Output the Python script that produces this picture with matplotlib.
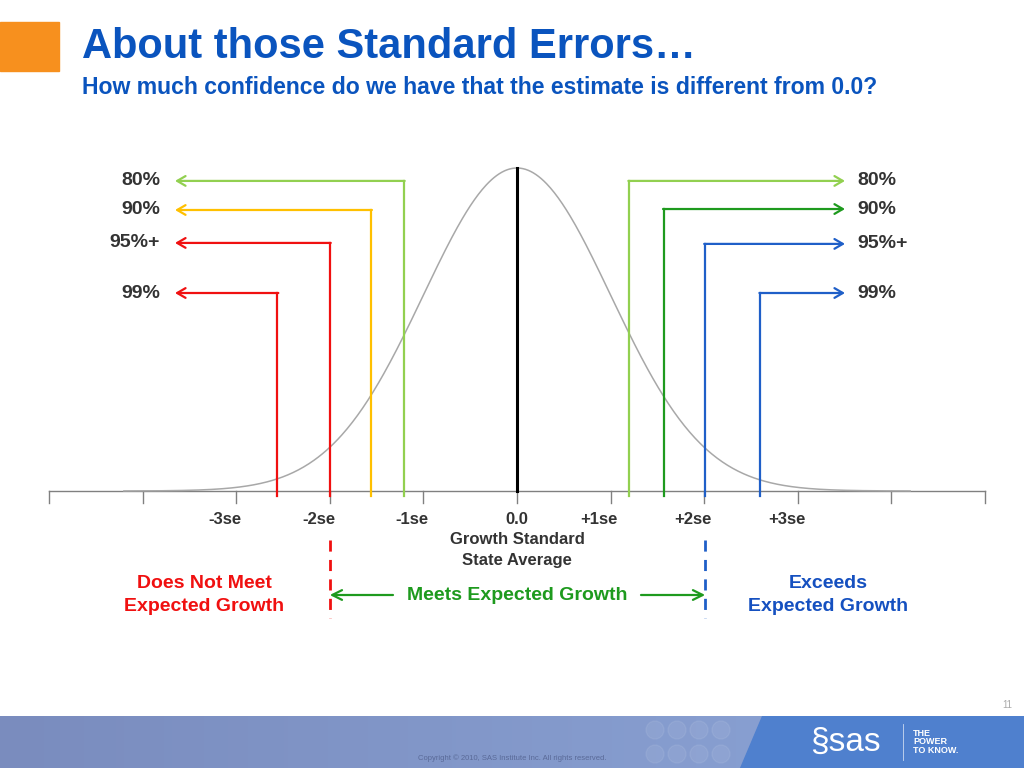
import numpy as np
import matplotlib
matplotlib.use("Agg")
import matplotlib.pyplot as plt
from matplotlib.patches import Rectangle, Polygon, Circle

plt.rcParams["font.family"] = ["Liberation Sans", "DejaVu Sans"]

# ---- data ----
title = "About those Standard Errors\u2026"
subtitle = "How much confidence do we have that the estimate is different from 0.0?"

tick_pos = np.arange(-5, 6)
label_pos = [-3, -2, -1, 0, 1, 2, 3]
label_txt = ["-3se", "-2se", "-1se", "0.0", "+1se", "+2se", "+3se"]

levels = ["80%", "90%", "95%+", "99%"]
left_cut = [-1.21, -1.56, -2.00, -2.56]
left_y = [0.960, 0.870, 0.768, 0.613]
left_col = ["#92D050", "#FFC000", "#F01010", "#F01010"]
right_cut = [1.20, 1.57, 2.01, 2.60]
right_y = [0.960, 0.873, 0.765, 0.613]
right_col = ["#92D050", "#1E9A1E", "#1F5FC8", "#1F5FC8"]

BLUE = "#0A54BE"
DARK = "#333333"

# pixel layout: center x=517, 1se=93.6px, baseline y=491, peak y=168
W, H = 1024, 768
cx, se, y0, pk = 517, 93.6, 491, 323.0

fig = plt.figure(figsize=(10.24, 7.68), dpi=100)
ax = fig.add_axes([0, 0, 1, 1])
ax.set_xlim((0 - cx) / se, (W - cx) / se)
ax.set_ylim((y0 - H) / pk, y0 / pk)
ax.axis("off")

# normal curve
xs = np.linspace(-4.2, 4.2, 600)
ax.plot(xs, np.exp(-xs ** 2 / 2), color="#A8A8A8", lw=1.1, zorder=2)

# axis line and ticks
ax.plot([-5, 5], [0, 0], color="#808080", lw=1.0, zorder=1)
tl = 12 / pk
for t in tick_pos:
    ax.plot([t, t], [0, -tl], color="#808080", lw=1.0, zorder=1)
for p, s in zip(label_pos, label_txt):
    off = 0 if p == 0 else -0.12
    ax.text(p + off, -29 / pk, s, ha="center", va="center", fontsize=12,
            fontweight="bold", color=DARK)
ax.text(0, -49 / pk, "Growth Standard", ha="center", va="center", fontsize=12,
        fontweight="bold", color=DARK)
ax.text(0, -69 / pk, "State Average", ha="center", va="center", fontsize=12,
        fontweight="bold", color=DARK)

# center line
ax.plot([0, 0], [0, 1.0], color="black", lw=2.2, zorder=3)

low = -5 / pk
ltip = (175 - cx) / se
rtip = (845 - cx) / se
aprops = dict(arrowstyle="->,head_length=0.6,head_width=0.35", lw=1.6,
              shrinkA=0, shrinkB=0)
for c, yv, col, lab in zip(left_cut, left_y, left_col, levels):
    ax.plot([c, c], [low, yv], color=col, lw=1.6, zorder=3)
    ax.annotate("", xy=(ltip, yv), xytext=(c + 0.01, yv),
                arrowprops=dict(aprops, color=col), zorder=3)
    ax.text((160 - cx) / se, yv, lab, ha="right", va="center", fontsize=14,
            fontweight="bold", color=DARK)
for c, yv, col, lab in zip(right_cut, right_y, right_col, levels):
    ax.plot([c, c], [low, yv], color=col, lw=1.6, zorder=3)
    ax.annotate("", xy=(rtip, yv), xytext=(c - 0.01, yv),
                arrowprops=dict(aprops, color=col), zorder=3)
    ax.text((857 - cx) / se, yv, lab, ha="left", va="center", fontsize=14,
            fontweight="bold", color=DARK)

# growth zone markers
dtop, dbot = -(540 - y0) / pk, -(618 - y0) / pk
ax.plot([-2, -2], [dtop, dbot], color="#F01010", lw=2.0, ls=(0, (4, 3)))
ax.plot([2.01, 2.01], [dtop, dbot], color="#1F5FC8", lw=2.0, ls=(0, (4, 3)))
ym = -(595 - y0) / pk
gprops = dict(arrowstyle="->,head_length=0.7,head_width=0.35", lw=1.6,
              color="#1E9A1E", shrinkA=0, shrinkB=0)
ax.annotate("", xy=(-2.0, ym), xytext=((393 - cx) / se, ym), arrowprops=gprops)
ax.annotate("", xy=(2.01, ym), xytext=((641 - cx) / se, ym), arrowprops=gprops)
ax.text(0, ym, "Meets Expected Growth", ha="center", va="center", fontsize=14,
        fontweight="bold", color="#1E9A1E")
ax.text((204 - cx) / se, ym, "Does Not Meet\nExpected Growth", ha="center",
        va="center", fontsize=14, fontweight="bold", color="#F01010",
        linespacing=1.45)
ax.text((828 - cx) / se, ym, "Exceeds\nExpected Growth", ha="center",
        va="center", fontsize=14, fontweight="bold", color="#1550C0",
        linespacing=1.45)

# ---- slide decoration (figure coords) ----
fig.patches.append(Rectangle((0, 1 - 71 / H), 59 / W, 49 / H,
                             transform=fig.transFigure, color="#F7901E"))
fig.text(82 / W, 1 - 47 / H, title, ha="left", va="center", fontsize=30,
         fontweight="bold", color=BLUE)
fig.text(82 / W, 1 - 88 / H, subtitle, ha="left", va="center", fontsize=16.6,
         fontweight="bold", color=BLUE)

# footer band with gradient
fax = fig.add_axes([0, 0, 1, 52 / H])
fax.set_xlim(0, W)
fax.set_ylim(0, 52)
fax.axis("off")
grad = np.linspace(0, 1, 256)
c1 = np.array([122, 140, 190]) / 255
c2 = np.array([140, 165, 215]) / 255
img = (c1[None, :] * (1 - grad[:, None]) + c2[None, :] * grad[:, None])[None, :, :]
fax.imshow(img, extent=[0, W, 0, 52], aspect="auto", zorder=0)
fax.add_patch(Polygon([[762, 52], [W, 52], [W, 0], [740, 0]],
                      color="#4F80CE", zorder=1))
for i in range(4):
    for j in range(2):
        fax.add_patch(Circle((655 + i * 22, 38 - j * 24), 9,
                             color="white", alpha=0.07, zorder=1))
fax.text(512, 10, "Copyright \u00a9 2010, SAS Institute Inc. All rights reserved.",
         ha="center", va="center", fontsize=5.5, color="#5A6A98")
fax.text(845, 26, "\u00a7sas", ha="center", va="center", fontsize=24,
         color="white")
fax.plot([903, 903], [8, 44], color="white", lw=0.6, alpha=0.7)
fax.text(913, 26, "THE\nPOWER\nTO KNOW.", ha="left", va="center", fontsize=6.5,
         fontweight="bold", color="white", linespacing=0.95)
fig.text(1007 / W, 1 - 705 / H, "11", ha="center", va="center", fontsize=7,
         color="#AAAAAA")

fig.savefig("out.png", dpi=100)
